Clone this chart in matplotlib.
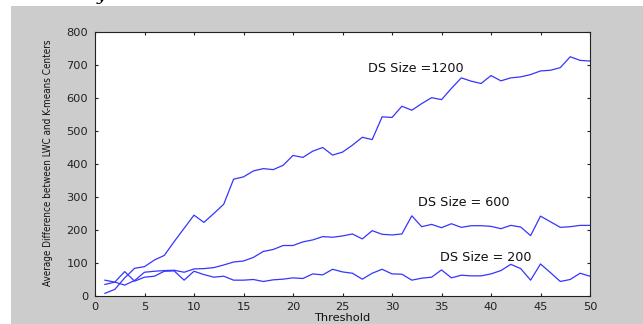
import matplotlib
matplotlib.use('Agg')
import matplotlib.pyplot as plt
from matplotlib.patches import Rectangle
import numpy as np

# threshold values (x axis)
thresholds = list(range(1, 51))

# average difference between LWC and K-means centers, one list per data set size
ds1200 = [8, 20, 55, 84, 89, 109, 123, 165, 205, 245,
          223, 250, 278, 354, 361, 379, 386, 383, 396, 426,
          420, 439, 450, 427, 436, 457, 481, 474, 543, 541,
          575, 563, 583, 601, 595, 629, 661, 651, 644, 668,
          652, 661, 664, 671, 682, 684, 692, 725, 714, 712]
ds600 = [35, 42, 33, 47, 72, 75, 77, 78, 72, 82,
         83, 86, 94, 103, 106, 117, 135, 141, 153, 153,
         164, 170, 180, 178, 182, 188, 173, 198, 187, 185,
         188, 243, 210, 217, 207, 219, 208, 213, 213, 211,
         204, 214, 209, 183, 242, 225, 208, 210, 214, 214]
ds200 = [48, 42, 74, 45, 57, 60, 75, 76, 48, 75,
         65, 57, 60, 48, 48, 50, 44, 49, 51, 55,
         53, 67, 64, 81, 73, 69, 51, 69, 81, 67,
         66, 48, 54, 57, 79, 55, 63, 61, 61, 67,
         77, 96, 83, 48, 97, 71, 44, 50, 69, 60]

labels = ['DS Size =1200', 'DS Size = 600', 'DS Size = 200']
label_pos = [(27.6, 688), (32.6, 282), (34.8, 118)]

plt.rcParams['font.family'] = 'DejaVu Sans'
plt.rcParams['font.size'] = 8

fig = plt.figure(figsize=(6.43, 3.24), dpi=100)
fig.patch.set_facecolor('white')
# grey matlab figure background, offset from the top/left edge
fig.patches.append(Rectangle((11/643, 0), 1, 318/324, transform=fig.transFigure,
                             facecolor='#cccccc', edgecolor='none', zorder=-5))
# stray glyph cut off at the top of the scan
fig.text(97/643, 1.0, 'y', fontsize=12, family='serif', style='italic',
         va='baseline', ha='left')

ax = fig.add_axes([95/643, 28/324, 495/643, 264/324])
ax.set_facecolor('white')

lineColor = '#3535ff'
for series in [ds1200, ds600, ds200]:
    ax.plot(thresholds, series, color=lineColor, lw=0.9)

for txt, (x, y) in zip(labels, label_pos):
    ax.text(x, y, txt, fontsize=9.2, ha='left', va='center', color='#111111')

ax.set_xlim(0, 50)
ax.set_ylim(0, 800)
ax.set_xticks(np.arange(0, 51, 5))
ax.set_yticks(np.arange(0, 801, 100))
ax.tick_params(direction='in', length=2.5, width=0.8, top=True, right=True,
               labelsize=8.2, colors='#222222', pad=4)
ax.tick_params(axis='y', pad=5)
for s in ax.spines.values():
    s.set_color('#222222')
    s.set_linewidth(0.8)

ax.set_xlabel('Threshold', fontsize=8.2, labelpad=1, color='#111111')
fig.text(48/643, 1 - 163/324, 'Average Difference between LWC and K-means Centers',
         rotation=90, ha='center', va='center', fontsize=7.1,
         fontstretch='condensed', color='#111111')

fig.savefig('out.png', dpi=100)
